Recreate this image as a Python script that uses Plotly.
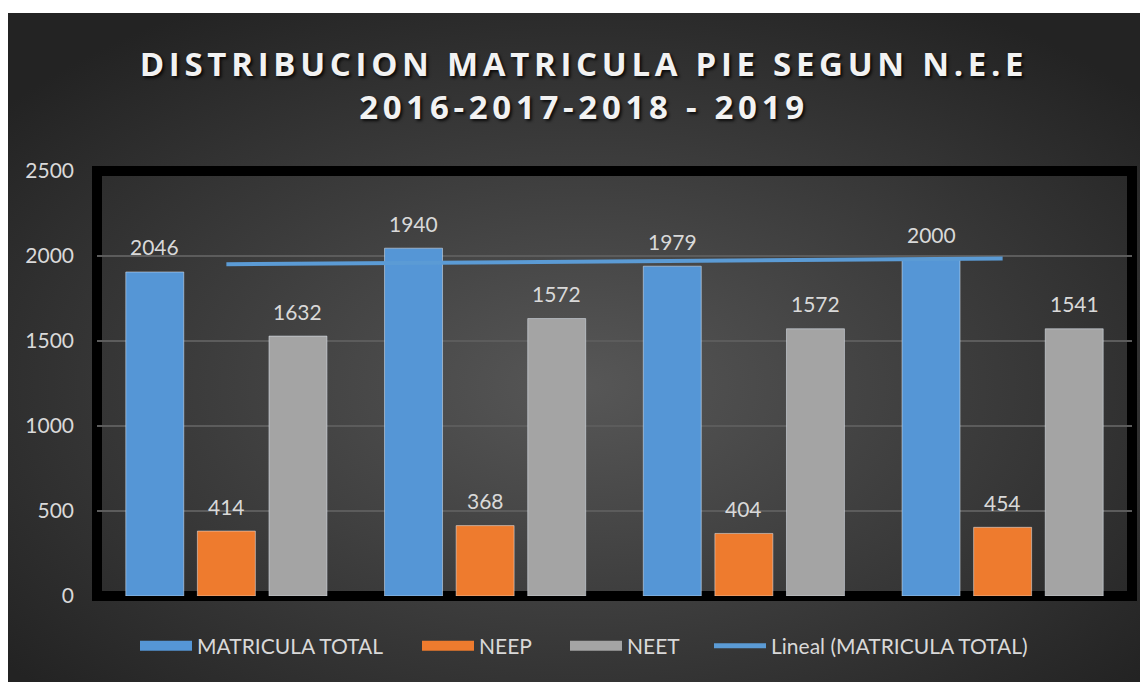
import base64
import plotly.graph_objects as go

# Data
years = ["2016", "2017", "2018", "2019"]
matricula_total = [1906, 2046, 1940, 1979]
neep = [382, 414, 368, 404]
neet = [1529, 1632, 1572, 1572]

# data labels as printed on the chart
matricula_labels = ["2046", "1940", "1979", "2000"]
neep_labels = ["414", "368", "404", "454"]
neet_labels = ["1632", "1572", "1572", "1541"]

# linear trend of MATRICULA TOTAL (ends)
trend_x = ["2016", "2019"]
trend_y = [1951, 1985]

W, H = 1148, 682
ML, MR, MT, MB = 89, 24, 163, 94
PW, PH = W - ML - MR, H - MT - MB
BARGAP = 0.17

BLUE = "#5596d6"
ORANGE = "#ee7b2e"
GRAY = "#a4a4a4"
TXT = "#d9d9d9"
FONT = "Lato, 'Open Sans', sans-serif"

fig = go.Figure()
fig.add_trace(go.Bar(x=years, y=matricula_total, name="MATRICULA TOTAL", marker_color=BLUE, showlegend=False))
fig.add_trace(go.Bar(x=years, y=neep, name="NEEP", marker_color=ORANGE, showlegend=False))
fig.add_trace(go.Bar(x=years, y=neet, name="NEET", marker_color=GRAY, showlegend=False))
fig.add_trace(go.Scatter(x=trend_x, y=trend_y, mode="lines", name="Lineal (MATRICULA TOTAL)",
                         line=dict(color="#5b9bd5", width=4), showlegend=False))

# legend entries, one legend per item so spacing follows the original
legend_items = [("MATRICULA TOTAL", BLUE, 15, 127), ("NEEP", ORANGE, 15, 409),
                ("NEET", GRAY, 15, 557), ("Lineal (MATRICULA TOTAL)", "#5b9bd5", 5, 701)]
legend_cfg = {}
for n, (name, color, lw, px0) in enumerate(legend_items):
    key = "legend" if n == 0 else f"legend{n + 1}"
    fig.add_trace(go.Scatter(x=[None], y=[None], mode="lines", name=name,
                             line=dict(color=color, width=lw), legend=key))
    legend_cfg[key] = dict(x=(px0 - ML) / PW, xanchor="left", y=(H - MB - 638) / PH, yanchor="middle",
                           font=dict(family=FONT, size=21, color=TXT), bgcolor="rgba(0,0,0,0)",
                           itemwidth=52)

# data labels above each bar
slot = (1 - BARGAP) / 3
for k, (vals, labels) in enumerate([(matricula_total, matricula_labels),
                                    (neep, neep_labels), (neet, neet_labels)]):
    for i, (v, lab) in enumerate(zip(vals, labels)):
        fig.add_annotation(x=i + (k - 1) * slot, y=v, text=lab, showarrow=False,
                           yshift=25, font=dict(family=FONT, size=21, color=TXT))

# radial dark background
svg = ("<svg xmlns='http://www.w3.org/2000/svg' width='1148' height='677'>"
       "<defs><radialGradient id='g' cx='50%' cy='55%' r='65%'>"
       "<stop offset='0' stop-color='#575757'/><stop offset='1' stop-color='#232323'/>"
       "</radialGradient></defs><rect width='1148' height='677' fill='url(#g)'/></svg>")
src = "data:image/svg+xml;base64," + base64.b64encode(svg.encode()).decode()
fig.add_layout_image(source=src, xref="paper", yref="paper", layer="below",
                     x=-ML / PW, y=(H - MB - 5) / PH, sizex=W / PW, sizey=(H - 5) / PH,
                     xanchor="left", yanchor="top", sizing="stretch")

# black frame around plot area
fig.add_shape(type="rect", xref="paper", yref="paper", x0=0, x1=1, y0=0, y1=1,
              line=dict(color="black", width=10), layer="between")

title_txt = ('<span style="letter-spacing:4.7px">DISTRIBUCION MATRICULA PIE SEGUN N.E.E</span><br>'
             '<span style="letter-spacing:4.7px">2016-2017-2018 - 2019</span>')

fig.update_layout(
    width=W, height=H,
    margin=dict(l=ML, r=MR, t=MT, b=MB),
    paper_bgcolor="white",
    plot_bgcolor="rgba(0,0,0,0)",
    barmode="group", bargap=BARGAP, bargroupgap=0.19,
    title=dict(text=title_txt,
               x=576 / W, xanchor="center", y=1 - 68 / H, yanchor="middle",
               font=dict(family="'Open Sans', Lato, sans-serif", size=33, color="#f2f2f2", weight="bold",
                         shadow="2px 2px 3px rgba(0,0,0,0.8)")),
    **legend_cfg,
)
fig.update_xaxes(showticklabels=False, showgrid=False, zeroline=False, range=[-0.5, 3.5])
fig.update_yaxes(range=[0, 2500], dtick=500, gridcolor="#5c5c5c", gridwidth=1.5, zeroline=False,
                 tickfont=dict(family=FONT, size=21, color=TXT), ticklabelstandoff=22)

fig.write_html("out.html")
